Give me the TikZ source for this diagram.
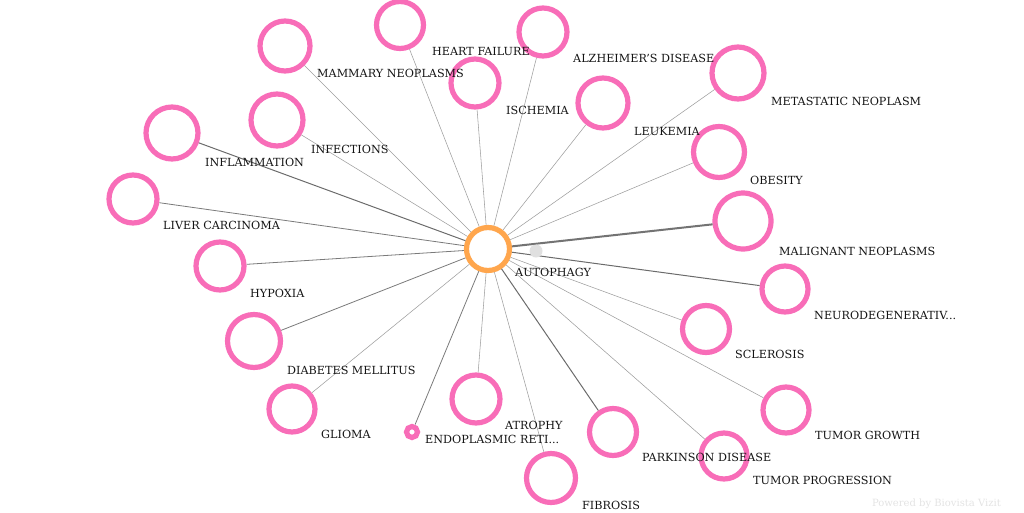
\documentclass[tikz,border=0pt]{standalone}
\usepackage{fontspec}
\setmainfont{DejaVu Serif}
\definecolor{rose}{HTML}{F86DB8}
\definecolor{orange}{HTML}{FFA64D}
\definecolor{texte}{HTML}{141414}
\tikzset{
    maladie/.style={circle, draw=rose, line width=5.2pt, fill=white, inner sep=0pt},
    centre/.style={circle, draw=orange, line width=5.2pt, fill=white, inner sep=0pt, minimum size=43pt},
    etiquette/.style={anchor=base west, inner sep=0pt, text=texte, font=\fontsize{11.2}{13}\selectfont},
    faible/.style={draw=black!38, line width=0.55pt},
    moyen/.style={draw=black!52, line width=0.8pt},
    fort/.style={draw=black!58, line width=1pt},
    tresfort/.style={draw=black!55, line width=2pt}
}
\begin{document}
\begin{tikzpicture}[x=1pt, y=-1pt]
        \useasboundingbox (0,0) rectangle (1024,512);

        % Noeud central
        \node[centre] (autophagy) at (488,249) {};

        % Maladies
        \node[maladie, minimum size=47pt] (heart) at (400,25) {};
        \node[maladie, minimum size=48pt] (alzheimer) at (543,32) {};
        \node[maladie, minimum size=50pt] (mammary) at (285,46) {};
        \node[maladie, minimum size=48pt] (ischemia) at (475,83) {};
        \node[maladie, minimum size=52pt] (metastatic) at (738,73) {};
        \node[maladie, minimum size=50pt] (leukemia) at (603,103) {};
        \node[maladie, minimum size=52pt] (inflammation) at (172,133) {};
        \node[maladie, minimum size=52pt] (infections) at (277,120) {};
        \node[maladie, minimum size=51pt] (obesity) at (719,152) {};
        \node[maladie, minimum size=48pt] (liver) at (133,199) {};
        \node[maladie, minimum size=56pt] (malignant) at (743,221) {};
        \node[maladie, minimum size=48pt] (hypoxia) at (220,266) {};
        \node[maladie, minimum size=46pt] (neuro) at (785,289) {};
        \node[maladie, minimum size=47pt] (sclerosis) at (706,329) {};
        \node[maladie, minimum size=53pt] (diabetes) at (254,341) {};
        \node[maladie, minimum size=46pt] (glioma) at (292,409) {};
        \node[maladie, minimum size=48pt] (atrophy) at (476,399) {};
        \node[maladie, minimum size=11pt] (endoplasmic) at (412,432) {};
        \node[maladie, minimum size=46pt] (growth) at (786,410) {};
        \node[maladie, minimum size=47pt] (parkinson) at (613,432) {};
        \node[maladie, minimum size=46pt] (progression) at (724,456) {};
        \node[maladie, minimum size=49pt] (fibrosis) at (551,478) {};

        % Liens
        \draw[faible] (autophagy) -- (heart);
        \draw[faible] (autophagy) -- (alzheimer);
        \draw[faible] (autophagy) -- (mammary);
        \draw[faible] (autophagy) -- (ischemia);
        \draw[faible] (autophagy) -- (metastatic);
        \draw[faible] (autophagy) -- (leukemia);
        \draw[fort] (autophagy) -- (inflammation);
        \draw[faible] (autophagy) -- (infections);
        \draw[faible] (autophagy) -- (obesity);
        \draw[moyen] (autophagy) -- (liver);
        \draw[tresfort] (autophagy) -- (malignant);
        \draw[moyen] (autophagy) -- (hypoxia);
        \draw[fort] (autophagy) -- (neuro);
        \draw[faible] (autophagy) -- (sclerosis);
        \draw[moyen] (autophagy) -- (diabetes);
        \draw[faible] (autophagy) -- (glioma);
        \draw[faible] (autophagy) -- (atrophy);
        \draw[moyen] (autophagy) -- (endoplasmic);
        \draw[faible] (autophagy) -- (growth);
        \draw[fort] (autophagy) -- (parkinson);
        \draw[faible] (autophagy) -- (progression);
        \draw[faible] (autophagy) -- (fibrosis);

        % Petit disque gris
        \node[circle, fill=black!12, inner sep=0pt, minimum size=13pt] (ombre) at (536,251) {};

        % Etiquettes
        \node[etiquette] (autophagy-t) at (515,276) {AUTOPHAGY};
        \node[etiquette] (heart-t) at (432,55) {HEART FAILURE};
        \node[etiquette] (alzheimer-t) at (573,62.5) {ALZHEIMER'S DISEASE};
        \node[etiquette] (mammary-t) at (317,77) {MAMMARY NEOPLASMS};
        \node[etiquette] (ischemia-t) at (506,114) {ISCHEMIA};
        \node[etiquette] (metastatic-t) at (771,105) {METASTATIC NEOPLASM};
        \node[etiquette] (leukemia-t) at (634,135) {LEUKEMIA};
        \node[etiquette] (inflammation-t) at (205,166) {INFLAMMATION};
        \node[etiquette] (infections-t) at (311,153) {INFECTIONS};
        \node[etiquette] (obesity-t) at (750,184) {OBESITY};
        \node[etiquette] (liver-t) at (163,229) {LIVER CARCINOMA};
        \node[etiquette] (malignant-t) at (779,255) {MALIGNANT NEOPLASMS};
        \node[etiquette] (hypoxia-t) at (250,297) {HYPOXIA};
        \node[etiquette] (neuro-t) at (814,319) {NEURODEGENERATIV...};
        \node[etiquette] (sclerosis-t) at (735,358) {SCLEROSIS};
        \node[etiquette] (diabetes-t) at (287,374) {DIABETES MELLITUS};
        \node[etiquette] (glioma-t) at (321,438) {GLIOMA};
        \node[etiquette] (atrophy-t) at (505,429) {ATROPHY};
        \node[etiquette] (endoplasmic-t) at (425,443) {ENDOPLASMIC RETI...};
        \node[etiquette] (growth-t) at (815,439) {TUMOR GROWTH};
        \node[etiquette] (parkinson-t) at (642,461) {PARKINSON DISEASE};
        \node[etiquette] (progression-t) at (753,484) {TUMOR PROGRESSION};
        \node[etiquette] (fibrosis-t) at (582,509) {FIBROSIS};

        % Signature
        \node[anchor=base east, inner sep=0pt, text=black!11, font=\fontsize{10}{12}\selectfont] (signature) at (1001,506) {Powered by Biovista Vizit};
    \end{tikzpicture}
\end{document}
